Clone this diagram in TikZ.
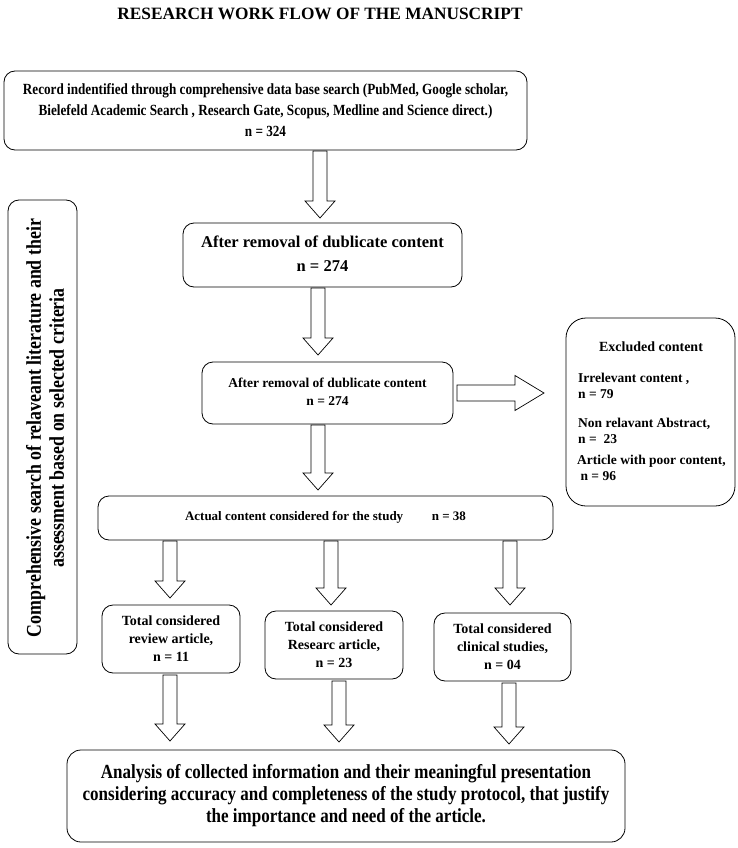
\documentclass[tikz,border=0pt]{standalone}
\usepackage{fontspec}
\setmainfont{Liberation Serif}
\newfontfamily\condfont[FakeStretch=0.85]{Liberation Serif}
\usetikzlibrary{calc}
\tikzset{
  box/.style={draw, line width=0.8pt, rounded corners=11pt, align=center, inner sep=0pt},
  blk/.style={draw, line width=0.7pt, fill=white},
  txt/.style={inner sep=0pt, align=left, anchor=west, font=\fontsize{13.5}{16}\selectfont\bfseries}
}
\newcommand\blkdown[2]{\draw[blk] let \p1=(#1), \p2=(#2) in
  (\x1-7pt,\y1) -- (\x1+7pt,\y1) -- (\x1+7pt,\y2+17pt) -- (\x1+15pt,\y2+17pt) --
  (\x1,\y2) -- (\x1-15pt,\y2+17pt) -- (\x1-7pt,\y2+17pt) -- cycle;}
\newcommand\blkright[2]{\draw[blk] let \p1=(#1), \p2=(#2) in
  (\x1,\y1-8pt) -- (\x2-29pt,\y1-8pt) -- (\x2-29pt,\y1-17.5pt) -- (\x2,\y1) --
  (\x2-29pt,\y1+17.5pt) -- (\x2-29pt,\y1+8pt) -- (\x1,\y1+8pt) -- cycle;}
\begin{document}
\begin{tikzpicture}[x=1pt,y=-1pt]
\useasboundingbox (0,0) rectangle (738,848);
\node[inner sep=0pt, font=\fontsize{17.3}{20}\selectfont\bfseries] (title) at (320,14) {RESEARCH WORK FLOW OF THE MANUSCRIPT};

\node[box, minimum width=523pt, minimum height=79pt, font=\condfont\fontsize{15.5}{21}\selectfont\bfseries] (b1) at (265.5,110.5)
 {Record indentified through comprehensive data base search (PubMed, Google scholar,\\ Bielefeld Academic Search , Research Gate, Scopus, Medline and Science direct.)\\ n = 324};

\node[box, minimum width=279pt, minimum height=64pt, font=\fontsize{16.5}{24}\selectfont\bfseries] (b2) at (322.5,255)
 {\raisebox{2pt}{\begin{tabular}{@{}c@{}}After removal of dublicate content\\ n = 274\end{tabular}}};

\node[box, minimum width=251pt, minimum height=62pt, font=\fontsize{13.5}{18}\selectfont\bfseries] (b3) at (327.5,393)
 {\raisebox{5pt}{\begin{tabular}{@{}c@{}}After removal of dublicate content\\ n = 274\end{tabular}}};

\node[box, rounded corners=20pt, minimum width=169pt, minimum height=188pt] (excl) at (650.5,412) {};
\node[inner sep=0pt, font=\fontsize{14}{16}\selectfont\bfseries] (exh) at (651,347) {Excluded content};
\node[txt] (ex1) at (578,386) {Irrelevant content ,\\ n = 79};
\node[txt] (ex2) at (578,431) {Non relavant Abstract,\\ n =\ \ 23};
\node[txt] (ex3) at (577,468) {Article with poor content,\\ \ n = 96};

\node[box, minimum width=455pt, minimum height=44pt, font=\fontsize{13}{16}\selectfont\bfseries] (b4) at (325.5,518)
 {\raisebox{5pt}{Actual content considered for the study\hspace{2.2em}n = 38}};

\node[box, minimum width=138pt, minimum height=68pt, font=\fontsize{14}{18}\selectfont\bfseries] (c1) at (171,639)
 {Total considered\\ review article,\\ n = 11};
\node[box, minimum width=138pt, minimum height=68pt, font=\fontsize{14}{18}\selectfont\bfseries] (c2) at (334,645)
 {Total considered\\ Researc article,\\ n = 23};
\node[box, minimum width=137pt, minimum height=68pt, font=\fontsize{14}{18}\selectfont\bfseries] (c3) at (502.5,647)
 {Total considered\\ clinical studies,\\ n = 04};

\node[box, rounded corners=14pt, minimum width=558pt, minimum height=92pt, font=\condfont\fontsize{20}{22}\selectfont\bfseries] (fin) at (346,796)
 {Analysis of collected information and their meaningful presentation\\ considering accuracy and completeness of the study protocol, that justify\\ the importance and need of the article.};

\node[box, minimum width=69pt, minimum height=454pt] (side) at (42.5,427) {};
\node[inner sep=0pt, rotate=90, align=center, font=\condfont\fontsize{21}{23}\selectfont\bfseries] (sidet) at (45,428)
 {Comprehensive search of relaveant literature and their\\ assessment based on selected criteria};

% block arrows
\coordinate (a1s) at (320,151); \coordinate (a1e) at (320,218);
\coordinate (a2s) at (318,288); \coordinate (a2e) at (318,355);
\coordinate (a3s) at (318,425); \coordinate (a3e) at (318,490);
\coordinate (a4s) at (170,541); \coordinate (a4e) at (170,598);
\coordinate (a5s) at (331,541); \coordinate (a5e) at (331,605);
\coordinate (a6s) at (510,541); \coordinate (a6e) at (510,605);
\coordinate (a7s) at (170,675); \coordinate (a7e) at (170,741);
\coordinate (a8s) at (339,681); \coordinate (a8e) at (339,742);
\coordinate (a9s) at (509,683); \coordinate (a9e) at (509,744);
\coordinate (r1s) at (457,393); \coordinate (r1e) at (544,393);
\blkdown{a1s}{a1e}
\blkdown{a2s}{a2e}
\blkdown{a3s}{a3e}
\blkdown{a4s}{a4e}
\blkdown{a5s}{a5e}
\blkdown{a6s}{a6e}
\blkdown{a7s}{a7e}
\blkdown{a8s}{a8e}
\blkdown{a9s}{a9e}
\blkright{r1s}{r1e}
\end{tikzpicture}
\end{document}
